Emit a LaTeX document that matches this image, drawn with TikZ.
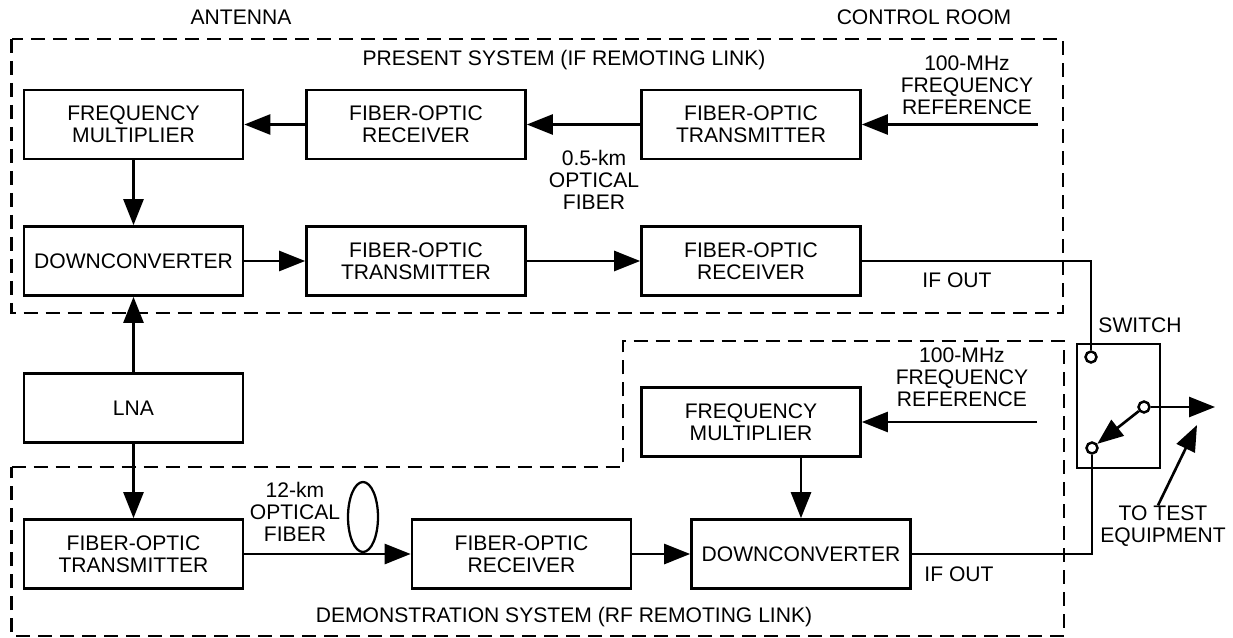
\documentclass[tikz,border=0pt]{standalone}
\usepackage{fontspec}
\setmainfont{Liberation Sans}
\usetikzlibrary{arrows.meta}
\newcommand{\blockfont}{\fontsize{12pt}{12.5pt}\selectfont}

\begin{document}
\begin{tikzpicture}[
  x=0.02cm, y=-0.02cm,
  block/.style ={draw, line width=1.5pt, minimum width=4.38cm,
                 minimum height=1.38cm, inner sep=1mm, align=center,
                 font=\blockfont},
  lbl/.style   ={align=center, inner sep=0pt, font=\blockfont},
  zone/.style  ={line width=1.4pt, dash pattern=on 0.28cm off 0.16cm},
  wire/.style  ={line width=1.5pt},
  arr/.style   ={-{Triangle[length=5.2mm, width=4mm]}, line width=1.5pt},
  term/.style  ={circle, draw, fill=white, line width=1.4pt,
                 minimum size=2.2mm, inner sep=0pt}
]
  \useasboundingbox (0,0) rectangle (1233,638);

  % dashed system outlines
  \draw[zone] (11.7,39) rectangle (1063,313);
  \draw[zone] (11.7,467) -- (623,467) -- (623,341) -- (1064,341)
              -- (1064,636) -- (11.7,636) -- cycle;

  % present system
  \node[block] (fm1) at (133.5,124.5) {FREQUENCY\\MULTIPLIER};
  \node[block] (rx1) at (416,124.5)   {FIBER-OPTIC\\RECEIVER};
  \node[block] (tx1) at (751,124.5)   {FIBER-OPTIC\\TRANSMITTER};
  \node[block] (dc1) at (133.5,261)   {DOWNCONVERTER};
  \node[block] (tx2) at (416,261)     {FIBER-OPTIC\\TRANSMITTER};
  \node[block] (rx2) at (751,261)     {FIBER-OPTIC\\RECEIVER};

  % antenna front end
  \node[block] (lna) at (133.5,408)   {LNA};

  % demonstration system
  \node[block] (tx3) at (133.5,554)   {FIBER-OPTIC\\TRANSMITTER};
  \node[block] (rx3) at (521.5,554)   {FIBER-OPTIC\\RECEIVER};
  \node[block] (dc3) at (801,554)     {DOWNCONVERTER};
  \node[block] (fm3) at (751,422)     {FREQUENCY\\MULTIPLIER};

  % switch
  \draw[line width=1.5pt] (1077,344) rectangle (1160,468);
  \node[term] (t1) at (1091,357) {};
  \node[term] (t2) at (1092,448) {};
  \node[term] (t3) at (1144,407) {};
  \coordinate (out) at (1215,407);

  % labels
  \node[lbl] (antenna) at (241,17)   {ANTENNA};
  \node[lbl] (ctrl)    at (924,17)   {CONTROL ROOM};
  \node[lbl] (present) at (564,60)   {PRESENT SYSTEM (IF REMOTING LINK)};
  \node[lbl] (ref1)    at (967,85)   {100-MHz\\FREQUENCY\\REFERENCE};
  \node[lbl] (fib1)    at (594,180)  {0.5-km\\OPTICAL\\FIBER};
  \node[lbl] (ifout1)  at (957,280)  {IF OUT};
  \node[lbl] (switch)  at (1140,325) {SWITCH};
  \node[lbl] (ref3)    at (962,377)  {100-MHz\\FREQUENCY\\REFERENCE};
  \node[lbl] (fib3)    at (295,512)  {12-km\\OPTICAL\\FIBER};
  \node[lbl] (ifout3)  at (959,574)  {IF OUT};
  \node[lbl] (demo)    at (564,617)  {DEMONSTRATION SYSTEM (RF REMOTING LINK)};
  \node[lbl] (teq)     at (1163,526) {TO TEST\\EQUIPMENT};
  \coordinate (ref1in) at (1038,124.5);
  \coordinate (ref3in) at (1037,422);
  \coordinate (teqtip) at (1197,425);

  % fiber spool
  \draw[line width=1.3pt] (363,517) ellipse [x radius=0.3cm, y radius=0.7cm];

  % connectors
  \draw[arr] (ref1in) -- (tx1.east);
  \draw[arr] (tx1.west) -- (rx1.east);
  \draw[arr] (rx1.west) -- (fm1.east);
  \draw[arr] (fm1.south) -- (dc1.north);
  \draw[arr] (dc1.east) -- (tx2.west);
  \draw[arr] (tx2.east) -- (rx2.west);
  \draw[wire] (rx2.east) -| (t1.north);
  \draw[arr] (lna.north) -- (dc1.south);
  \draw[arr] (lna.south) -- (tx3.north);
  \draw[arr] (tx3.east) -- (rx3.west);
  \draw[arr] (rx3.east) -- (dc3.west);
  \draw[arr] (ref3in) -- (fm3.east);
  \draw[arr] (dc3.north |- fm3.south) -- (dc3.north);
  \draw[wire] (dc3.east) -| (t2.south);
  \draw[arr] (t3) -- (t2);
  \draw[arr] (t3) -- (out);
  \draw[arr] ([xshift=-0.1cm]teq.north) -- (teqtip);
\end{tikzpicture}
\end{document}
